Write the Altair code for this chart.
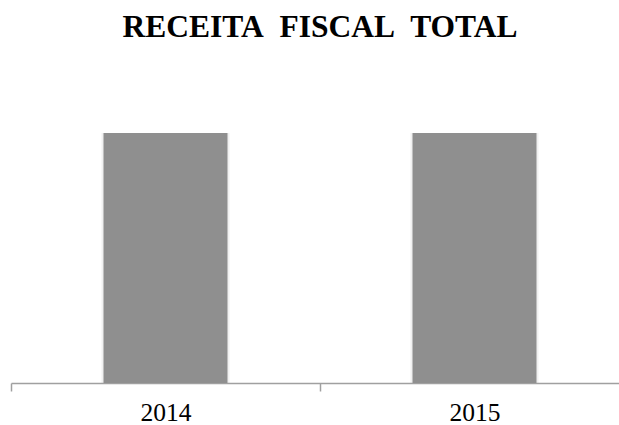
import altair as alt
import pandas as pd

years = ["2014", "2015"]
values = [100, 100]

df = pd.DataFrame({"ano": years, "receita": values})

x_enc = alt.X(
    "ano:N",
    scale=alt.Scale(range=[0, 618], paddingInner=0, paddingOuter=0),
    axis=alt.Axis(
        title=None, labelAngle=0, tickBand="extent", tickSize=8, labelPadding=9,
        labelFont="Liberation Serif", labelFontSize=25.5, labelColor="black",
        domainColor="#a0a0a0", tickColor="#a0a0a0", domainWidth=1.5, tickWidth=1.5,
        grid=False,
    ),
)
y_enc = alt.Y("receita:Q", scale=alt.Scale(domain=[0, 120]), axis=None)

shadow = alt.Chart(df).mark_bar(size=128, color="#8f8f8f", opacity=0.12).encode(x=x_enc, y=y_enc)
bars = alt.Chart(df).mark_bar(size=124, color="#8f8f8f").encode(x=x_enc, y=y_enc)

chart = alt.layer(shadow, bars).properties(
    width=608,
    height=300,
    padding={"left": 11, "top": 83, "right": 0, "bottom": 42},
    autosize="none",
    background="white",
    title=alt.TitleParams(
        "RECEITA\u00a0 FISCAL\u00a0 TOTAL",
        font="Liberation Serif", fontSize=31.5, fontWeight="bold", color="black",
        anchor="middle", baseline="alphabetic", offset=15, dx=5,
    ),
).configure_view(stroke=None)

chart.save("out.html", embed_options={"renderer": "svg", "actions": False})
